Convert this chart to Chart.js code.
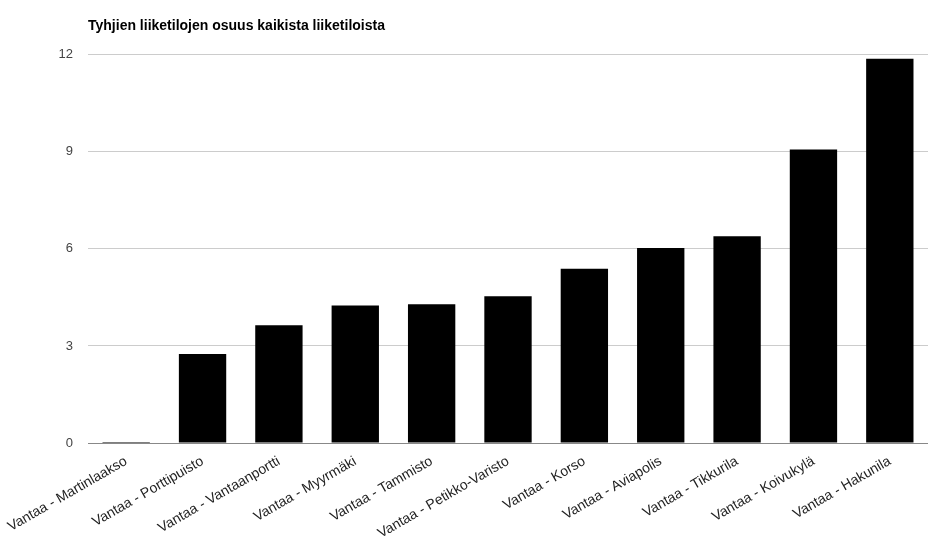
<!DOCTYPE html>
<html>
<head>
<meta charset="utf-8">
<script src="https://cdn.jsdelivr.net/npm/chart.js"></script>
<style>
  html, body { margin: 0; padding: 0; background: #fff; }
  #wrap { width: 937px; height: 549px; position: relative; }
</style>
</head>
<body>
<div id="wrap"><canvas id="vacancy-chart"></canvas></div>
<script>
// Chart data
const chartTitle = 'Tyhjien liiketilojen osuus kaikista liiketiloista';
const areas = [
    'Vantaa - Martinlaakso',
    'Vantaa - Porttipuisto',
    'Vantaa - Vantaanportti',
    'Vantaa - Myyrmäki',
    'Vantaa - Tammisto',
    'Vantaa - Petikko-Varisto',
    'Vantaa - Korso',
    'Vantaa - Aviapolis',
    'Vantaa - Tikkurila',
    'Vantaa - Koivukylä',
    'Vantaa - Hakunila'
];
const vacancyShare = [0.03, 2.75, 3.64, 4.25, 4.29, 4.54, 5.39, 6.03, 6.39, 9.07, 11.88];
const yTicks = [0, 3, 6, 9, 12];

document.addEventListener('DOMContentLoaded', function() {
    Chart.defaults.font.family = "'Liberation Sans', Arial, sans-serif";
    Chart.defaults.font.size = 13;
    Chart.defaults.color = '#444';

    new Chart(document.getElementById('vacancy-chart'), {
        type: 'bar',
        data: {
            labels: areas,
            datasets: [{
                data: vacancyShare,
                backgroundColor: '#000',
                barPercentage: 0.62,
                categoryPercentage: 1
            }]
        },
        options: {
            responsive: true,
            maintainAspectRatio: false,
            animation: false,
            devicePixelRatio: 1,
            layout: {
                padding: { left: 0, right: 9, top: 0, bottom: 0 }
            },
            plugins: {
                legend: { display: false },
                tooltip: { enabled: false },
                title: {
                    display: true,
                    text: chartTitle,
                    align: 'start',
                    fullSize: false,
                    color: '#000',
                    font: { size: 14, weight: 'bold' },
                    padding: { top: 18, bottom: 20 }
                }
            },
            scales: {
                x: {
                    grid: { display: false, drawTicks: false },
                    border: { display: false },
                    ticks: {
                        autoSkip: false,
                        minRotation: 30,
                        maxRotation: 30,
                        padding: 10,
                        color: '#222',
                        font: { size: 14 }
                    },
                    afterFit: function(scale) {
                        // rotated first label may hang past the left edge, like the original
                        scale.height = 106;
                        scale.paddingLeft = 0;
                        scale.paddingRight = 0;
                    }
                },
                y: {
                    min: 0,
                    max: 12,
                    afterBuildTicks: function(scale) {
                        scale.ticks = yTicks.map(v => ({ value: v }));
                    },
                    grid: {
                        drawTicks: false,
                        color: function(ctx) {
                            return ctx.tick && ctx.tick.value === 0 ? '#888' : '#ccc';
                        }
                    },
                    border: { display: false },
                    ticks: { padding: 15, color: '#444', font: { size: 13 } },
                    afterFit: function(scale) {
                        scale.width = 88;
                    }
                }
            }
        }
    });
});
</script>
</body>
</html>
